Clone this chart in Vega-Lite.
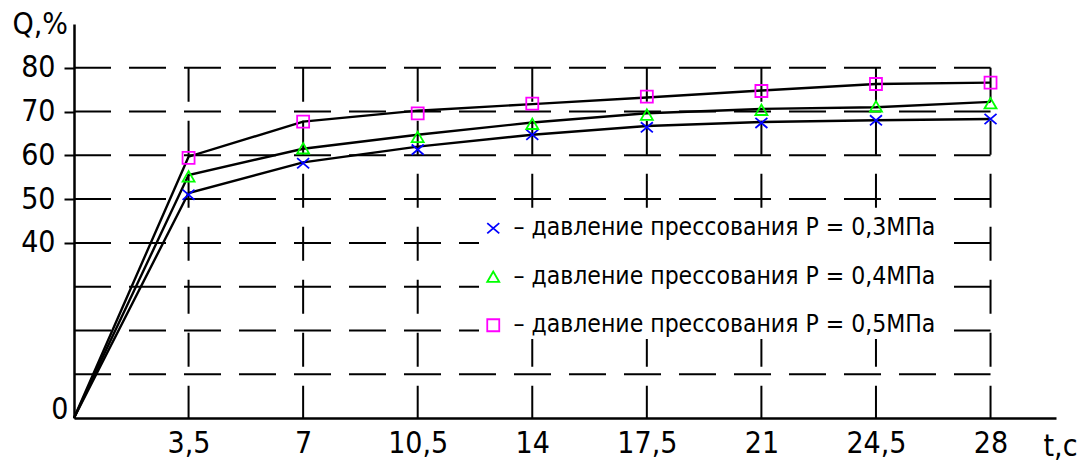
{
  "$schema": "https://vega.github.io/schema/vega-lite/v6.json",
  "autosize": {"type": "none"},
  "width": 982,
  "height": 394,
  "padding": {"left": 74, "top": 24, "right": 22, "bottom": 43},
  "background": "white",
  "config": {
    "view": {"stroke": null},
    "font": "DejaVu Sans Condensed, Liberation Sans",
    "axis": {"grid": false, "domainColor": "black", "domainWidth": 2.5, "labelColor": "black", "titleColor": "black", "labelFont": "DejaVu Sans Condensed, Liberation Sans", "titleFont": "DejaVu Sans Condensed, Liberation Sans", "titleFontWeight": "normal"}
  },
  "datasets": {
    "pts": [
      {"series": "– давление прессования P = 0,3МПа", "t": 0, "q_line": 0, "q_point": null},
      {"series": "– давление прессования P = 0,3МПа", "t": 3.5, "q_line": 51.4, "q_point": 51.0},
      {"series": "– давление прессования P = 0,3МПа", "t": 7, "q_line": 58.4, "q_point": 58.2},
      {"series": "– давление прессования P = 0,3МПа", "t": 10.5, "q_line": 62.0, "q_point": 61.3},
      {"series": "– давление прессования P = 0,3МПа", "t": 14, "q_line": 64.7, "q_point": 64.7},
      {"series": "– давление прессования P = 0,3МПа", "t": 17.5, "q_line": 66.7, "q_point": 66.4},
      {"series": "– давление прессования P = 0,3МПа", "t": 21, "q_line": 67.6, "q_point": 67.4},
      {"series": "– давление прессования P = 0,3МПа", "t": 24.5, "q_line": 68.0, "q_point": 68.0},
      {"series": "– давление прессования P = 0,3МПа", "t": 28, "q_line": 68.3, "q_point": 68.3},
      {"series": "– давление прессования P = 0,4МПа", "t": 0, "q_line": 0, "q_point": null},
      {"series": "– давление прессования P = 0,4МПа", "t": 3.5, "q_line": 55.5, "q_point": 55.2},
      {"series": "– давление прессования P = 0,4МПа", "t": 7, "q_line": 61.5, "q_point": 61.6},
      {"series": "– давление прессования P = 0,4МПа", "t": 10.5, "q_line": 64.7, "q_point": 64.2},
      {"series": "– давление прессования P = 0,4МПа", "t": 14, "q_line": 67.5, "q_point": 67.2},
      {"series": "– давление прессования P = 0,4МПа", "t": 17.5, "q_line": 69.6, "q_point": 69.3},
      {"series": "– давление прессования P = 0,4МПа", "t": 21, "q_line": 70.6, "q_point": 70.4},
      {"series": "– давление прессования P = 0,4МПа", "t": 24.5, "q_line": 71.0, "q_point": 71.2},
      {"series": "– давление прессования P = 0,4МПа", "t": 28, "q_line": 72.2, "q_point": 71.9},
      {"series": "– давление прессования P = 0,5МПа", "t": 0, "q_line": 0, "q_point": null},
      {"series": "– давление прессования P = 0,5МПа", "t": 3.5, "q_line": 59.7, "q_point": 59.4},
      {"series": "– давление прессования P = 0,5МПа", "t": 7, "q_line": 67.7, "q_point": 67.7},
      {"series": "– давление прессования P = 0,5МПа", "t": 10.5, "q_line": 70.2, "q_point": 69.6},
      {"series": "– давление прессования P = 0,5МПа", "t": 14, "q_line": 71.7, "q_point": 71.8},
      {"series": "– давление прессования P = 0,5МПа", "t": 17.5, "q_line": 73.2, "q_point": 73.4},
      {"series": "– давление прессования P = 0,5МПа", "t": 21, "q_line": 74.8, "q_point": 74.7},
      {"series": "– давление прессования P = 0,5МПа", "t": 24.5, "q_line": 76.3, "q_point": 76.3},
      {"series": "– давление прессования P = 0,5МПа", "t": 28, "q_line": 76.6, "q_point": 76.6}
    ],
    "gridh": [
      {"q": 10, "t0": 0, "t1": 28}, {"q": 20, "t0": 0, "t1": 28}, {"q": 30, "t0": 0, "t1": 28}, {"q": 40, "t0": 0, "t1": 28},
      {"q": 50, "t0": 0, "t1": 28}, {"q": 60, "t0": 0, "t1": 28}, {"q": 70, "t0": 0, "t1": 28}, {"q": 80, "t0": 0, "t1": 28}
    ],
    "gridv": [
      {"t": 3.5, "qtop": 80, "qbot": 0}, {"t": 7, "qtop": 80, "qbot": 0}, {"t": 10.5, "qtop": 80, "qbot": 0}, {"t": 14, "qtop": 80, "qbot": 0},
      {"t": 17.5, "qtop": 80, "qbot": 0}, {"t": 21, "qtop": 80, "qbot": 0}, {"t": 24.5, "qtop": 80, "qbot": 0}, {"t": 28, "qtop": 80, "qbot": 0}
    ]
  },
  "layer": [
    {
      "data": {"name": "gridh"},
      "mark": {"type": "rule", "color": "black", "strokeWidth": 2, "strokeDash": [37, 18]},
      "encoding": {
        "x": {"field": "t0", "type": "quantitative", "scale": {"domain": [0, 30], "nice": false}, "axis": {
          "values": [3.5, 7, 10.5, 14, 17.5, 21, 24.5, 28],
          "labelExpr": "replace(toString(datum.value), '.', ',')",
          "ticks": false, "labelFontSize": 30, "labelPadding": 10, "labelFlush": false,
          "title": "t,c", "titleFontSize": 30, "titleAngle": 0, "titleAlign": "left", "titleBaseline": "alphabetic", "titleX": 969, "titleY": 37
        }},
        "x2": {"field": "t1"},
        "y": {"field": "q", "type": "quantitative", "scale": {"domain": [0, 90], "nice": false}, "axis": {
          "values": [0, 40, 50, 60, 70, 80],
          "ticks": true, "tickSize": 10, "tickWidth": 2, "tickColor": "black",
          "tickOpacity": {"condition": {"test": "datum.value == 0", "value": 0}, "value": 1},
          "labelFontSize": 30,
          "labelPadding": {"condition": {"test": "datum.value == 0", "value": -4}, "value": 9},
          "labelBaseline": {"condition": {"test": "datum.value == 0", "value": "alphabetic"}, "value": "middle"},
          "labelFlush": false,
          "title": "Q,%", "titleFontSize": 30, "titleAngle": 0, "titleAlign": "left", "titleBaseline": "alphabetic", "titleX": -62, "titleY": 9
        }}
      }
    },
    {
      "data": {"name": "gridv"},
      "mark": {"type": "rule", "color": "black", "strokeWidth": 2, "strokeDash": [34, 19]},
      "encoding": {
        "x": {"field": "t", "type": "quantitative"},
        "y": {"field": "qtop", "type": "quantitative"},
        "y2": {"field": "qbot"}
      }
    },
    {
      "data": {"name": "pts"},
      "mark": {"type": "line", "color": "black", "strokeWidth": 2.4},
      "encoding": {
        "x": {"field": "t", "type": "quantitative"},
        "y": {"field": "q_line", "type": "quantitative"},
        "detail": {"field": "series"},
        "order": {"field": "t"}
      }
    },
    {
      "data": {"name": "pts"},
      "mark": {"type": "point", "filled": false, "strokeWidth": 1.8, "size": 144, "opacity": 1},
      "encoding": {
        "x": {"field": "t", "type": "quantitative"},
        "y": {"field": "q_point", "type": "quantitative"},
        "color": {"field": "series", "type": "nominal", "scale": {"range": ["#0000ff", "#00ff00", "#ff00ff"]},
          "legend": {"orient": "none", "legendX": 405, "legendY": 190, "title": null, "labelFont": "DejaVu Sans Condensed, Liberation Sans", "labelFontSize": 24.5, "labelColor": "black", "labelLimit": 600, "symbolSize": 144, "symbolStrokeWidth": 1.8, "rowPadding": 23.5, "labelOffset": 8, "fillColor": "white", "padding": 2}},
        "shape": {"field": "series", "type": "nominal", "scale": {"range": ["M-1,-0.85L1,0.85M-1,0.85L1,-0.85", "triangle-up", "square"]}},
        "size": {"value": 144}
      }
    }
  ],
  "encoding": {}
}
